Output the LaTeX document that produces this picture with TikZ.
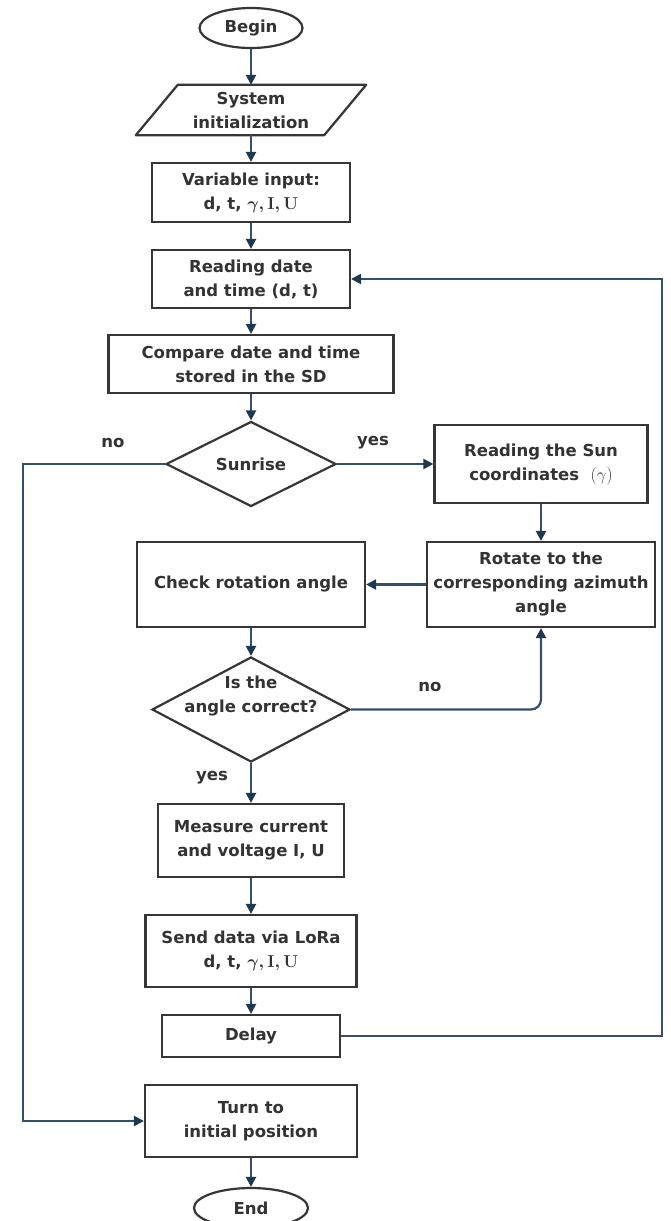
\documentclass[tikz,border=0pt]{standalone}
\usepackage[no-math]{fontspec}
\setmainfont{DejaVu Sans}
\usetikzlibrary{shapes.geometric,arrows.meta}
\definecolor{boxc}{HTML}{363636}
\definecolor{arrc}{HTML}{34506A}
\definecolor{tipc}{HTML}{1E3850}
\definecolor{txtc}{HTML}{333333}
\newcommand{\vars}{{\boldmath$\gamma, \mathrm{I}, \mathrm{U}$}}
\begin{document}
\begin{tikzpicture}[x=1pt,y=-1pt,
  every node/.style={font=\fontsize{16.5}{24}\selectfont\bfseries, text=txtc},
  proc/.style={draw=boxc, line width=2.2pt, rectangle, align=center, inner sep=0pt},
  term/.style={draw=boxc, line width=2.2pt, ellipse, inner sep=0pt},
  decis/.style={draw=boxc, line width=2.2pt, diamond, inner sep=0pt},
  plain/.style={inner sep=0pt, align=center},
  arr/.style={draw=arrc, line width=2.2pt, -{Triangle[length=10pt,width=10pt,color=tipc]}},
  lbl/.style={inner sep=0pt}
]
\useasboundingbox (0,0) rectangle (670,1221);
\fill[white] (0,0) rectangle (670,1221);

% main column
\node[term, minimum width=103, minimum height=40] (begin) at (251,28) {Begin};
\node[plain, minimum width=188, minimum height=50] (sys) at (251,110) {System\\initialization};
\draw[boxc, line width=2.2pt, line join=round]
  ([xshift=21pt]sys.north west) -- ([xshift=21pt]sys.north east) --
  ([xshift=-21pt]sys.south east) -- ([xshift=-21pt]sys.south west) -- cycle;
\node[proc, minimum width=198, minimum height=59] (var) at (251,192.5)
  {Variable input:\\d, t, \vars};
\node[proc, minimum width=198, minimum height=58] (read) at (251,279)
  {Reading date\\and time (d, t)};
\node[proc, minimum width=285, minimum height=58] (comp) at (251,364)
  {Compare date and time\\stored in the SD};
\node[decis, minimum width=170, minimum height=85] (sunrise) at (251,464) {};
\node[plain] (sunrisetxt) at (251,464) {Sunrise};
\node[proc, minimum width=213, minimum height=78] (sun) at (541,464)
  {Reading the Sun\\coordinates~~$(\gamma)$};
\node[proc, minimum width=228, minimum height=85] (rot) at (541,584.5)
  {Rotate to the\\corresponding azimuth\\angle};
\node[proc, minimum width=228, minimum height=85] (check) at (251,584.5)
  {Check rotation angle};
\node[decis, minimum width=198, minimum height=105] (angle) at (251,709.5) {};
\node[plain] (angletxt) at (251,696) {Is the\\angle correct?};
\node[proc, minimum width=186, minimum height=73] (meas) at (251,840.5)
  {Measure current\\and voltage I, U};
\node[proc, minimum width=211, minimum height=72] (send) at (251,951)
  {Send data via LoRa\\d, t, \vars};
\node[proc, minimum width=178, minimum height=42] (delay) at (251,1036) {Delay};
\node[proc, minimum width=212, minimum height=72] (turn) at (251,1121)
  {Turn to\\initial position};
\node[term, minimum width=114, minimum height=40] (end) at (251,1208) {End};

% labels
\node[lbl] (l1) at (113,443) {no};
\node[lbl] (l2) at (373,443) {yes};
\node[lbl] (l3) at (430,687) {no};
\node[lbl] (l4) at (212,778) {yes};

% helper coordinates
\coordinate (ltop) at (23,464);
\coordinate (rtop) at (662,279);

% connectors
\draw[arr] (begin.south) -- (sys.north);
\draw[arr] (sys.south) -- (var.north);
\draw[arr] (var.south) -- (read.north);
\draw[arr] (read.south) -- (comp.north);
\draw[arr] (comp.south) -- (sunrise.north);
\draw[arr] (sunrise.east) -- (sun.west);
\draw[arr] (sun.south) -- (rot.north);
\draw[arr] (rot.west) -- (check.east);
\draw[arr] (check.south) -- (angle.north);
\draw[arr, rounded corners=10pt] (angle.east) -| (rot.south);
\draw[arr] (angle.south) -- (meas.north);
\draw[arr] (meas.south) -- (send.north);
\draw[arr] (send.south) -- (delay.north);
\draw[arr] (delay.east) -| (rtop) -- (read.east);
\draw[arr] (sunrise.west) -- (ltop) |- (turn.west);
\draw[arr] (turn.south) -- (end.north);
\end{tikzpicture}
\end{document}
